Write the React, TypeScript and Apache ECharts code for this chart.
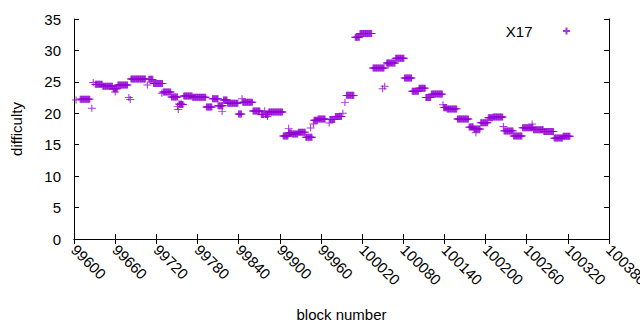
import React, { useEffect, useRef } from "react";
import * as echarts from "echarts";

// Difficulty per block, read as runs of (nearly) constant values: block range [runStart, runEnd] -> runValue
const runStart = [
  99603, 99609, 99626, 99628, 99631, 99642, 99657, 99660, 99664, 99680, 99682, 99683, 99707, 99709, 99716, 99728,
  99730, 99742, 99751, 99752, 99753, 99754, 99756, 99760, 99773, 99793, 99802, 99810, 99816, 99818, 99824, 99840,
  99845, 99846, 99861, 99873, 99878, 99879, 99882, 99884, 99905, 99913, 99913, 99918, 99927, 99938, 99945, 99949,
  99950, 99956, 99972, 99973, 99981, 99992, 99995, 99997, 100010, 100017, 100036, 100050, 100053, 100058, 100056,
  100069, 100082, 100093, 100103, 100113, 100121, 100138, 100139, 100144, 100159, 100176, 100183, 100186, 100193,
  100204, 100211, 100226, 100227, 100241, 100254, 100268, 100270, 100285, 100300, 100313,
];
const runEnd = [
  99603, 99623, 99626, 99628, 99641, 99656, 99663, 99660, 99678, 99680, 99682, 99704, 99707, 99715, 99729, 99728,
  99741, 99751, 99751, 99752, 99753, 99759, 99756, 99772, 99792, 99801, 99810, 99817, 99816, 99823, 99839, 99844,
  99845, 99860, 99871, 99877, 99878, 99883, 99882, 99904, 99912, 99913, 99917, 99926, 99937, 99947, 99945, 99949,
  99955, 99966, 99972, 99980, 99990, 99992, 99995, 100008, 100016, 100034, 100052, 100050, 100053, 100058, 100068,
  100081, 100092, 100102, 100112, 100120, 100137, 100138, 100143, 100158, 100175, 100182, 100192, 100186, 100203,
  100210, 100225, 100226, 100240, 100253, 100269, 100268, 100284, 100299, 100312, 100323,
];
const runValue = [
  22.1, 22.25, 20.8, 24.9, 24.6, 24.3, 23.9, 23.4, 24.5, 22.5, 22.2, 25.45, 24.5, 25.4, 24.75, 23.2,
  23.4, 22.6, 21.1, 20.6, 21.5, 21.4, 21.6, 22.75, 22.55, 21.0, 22.3, 21.2, 20.3, 22.1, 21.6, 19.9,
  22.3, 21.75, 20.35, 19.8, 20.4, 19.8, 19.5, 20.2, 16.4, 17.6, 16.85, 16.7, 17.0, 16.2, 17.65, 18.3,
  18.9, 19.1, 18.45, 19.0, 19.5, 20.0, 21.7, 22.85, 32.1, 32.7, 27.2, 23.9, 24.3, 27.7, 28.0,
  28.75, 25.6, 23.5, 24.0, 22.5, 23.05, 21.35, 20.9, 20.7, 19.1, 17.8, 17.5, 16.9, 18.5,
  19.3, 19.4, 17.9, 17.2, 16.4, 17.7, 18.3, 17.4, 17.1, 16.05, 16.35,
];

const seriesName = "X17";
const xName = "block number";
const yName = "difficulty";

const PURPLE = "#9400d3";
const FONT = "Liberation Sans";
const PLUS = "path://M0,5H10M5,0V10";

export default function App() {
  const ref = useRef<HTMLDivElement>(null);
  useEffect(() => {
    if (!ref.current) return;
    const chart = echarts.init(ref.current, undefined, { renderer: "svg" });
    const points: number[][] = [];
    for (let i = 0; i < runStart.length; i++) {
      for (let b = runStart[i]; b <= runEnd[i]; b++) points.push([b, runValue[i]]);
    }
    const axisCommon = {
      axisLine: { show: true, lineStyle: { color: "#000", width: 1 } },
      axisTick: { show: true, inside: true, length: 5, lineStyle: { color: "#000", width: 1 } },
      splitLine: { show: false },
    };
    const labelStyle = { color: "#000", fontSize: 15, fontFamily: FONT };
    chart.setOption({
      animation: false,
      backgroundColor: "#fff",
      textStyle: { fontFamily: FONT },
      grid: { left: 74, top: 19, width: 535, height: 220, outerBoundsMode: "none", containLabel: false },
      legend: {
        data: [seriesName],
        right: 64,
        top: 18,
        align: "right",
        itemWidth: 58,
        itemHeight: 7,
        selectedMode: false,
        icon: PLUS,
        textStyle: { ...labelStyle, lineHeight: 16 },
      },
      xAxis: [
        {
          type: "value",
          position: "bottom",
          min: 99600,
          max: 100380,
          interval: 60,
          ...axisCommon,
          axisLabel: { ...labelStyle, rotate: -45, margin: 8, formatter: (v: number) => String(v) },
          name: xName,
          nameLocation: "middle",
          nameGap: 68,
          nameTextStyle: labelStyle,
        },
        {
          type: "value",
          position: "top",
          min: 99600,
          max: 100380,
          interval: 60,
          ...axisCommon,
          axisLabel: { show: false },
        },
      ],
      yAxis: [
        {
          type: "value",
          position: "left",
          min: 0,
          max: 35,
          interval: 5,
          ...axisCommon,
          axisLabel: { ...labelStyle, margin: 13 },
          name: yName,
          nameLocation: "middle",
          nameGap: 50,
          nameTextStyle: labelStyle,
        },
        {
          type: "value",
          position: "right",
          min: 0,
          max: 35,
          interval: 5,
          ...axisCommon,
          axisLabel: { show: false },
        },
      ],
      series: [
        {
          name: seriesName,
          type: "scatter",
          data: points,
          symbol: PLUS,
          symbolSize: [8, 7],
          itemStyle: { color: PURPLE, borderColor: PURPLE, borderWidth: 1 },
          emphasis: { disabled: true },
        },
      ],
    });
    return () => chart.dispose();
  }, []);
  return <div ref={ref} style={{ width: 640, height: 330, position: "absolute", left: 0, top: 0 }} />;
}
